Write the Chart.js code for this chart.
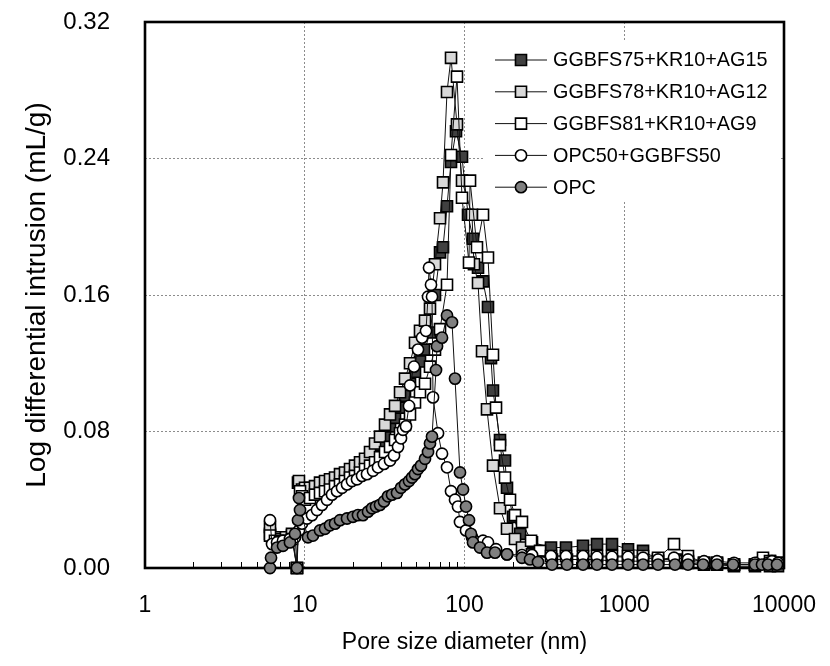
<!DOCTYPE html>
<html>
<head>
<meta charset="utf-8">
<script src="https://cdn.jsdelivr.net/npm/chart.js@4.4.0/dist/chart.umd.min.js"></script>
<style>
html,body{margin:0;padding:0;background:#fff;}
#wrap{width:830px;height:666px;}
</style>
</head>
<body>
<div id="wrap"><canvas id="c" width="830" height="666"></canvas></div>
<script>
// ---------------- DATA ----------------
const seriesNames = ["GGBFS75+KR10+AG15", "GGBFS78+KR10+AG12", "GGBFS81+KR10+AG9", "OPC50+GGBFS50", "OPC"];
const xTicks = [1, 10, 100, 1000, 10000];
const yTicks = [0, 0.08, 0.16, 0.24, 0.32];
const xTitle = "Pore size diameter (nm)";
const yTitle = "Log differential intrusion (mL/g)";

// GGBFS75+KR10+AG15 (dark squares)
const dia_ggbfs75 = [6.06,6.51,7.0,7.63,8.32,8.94,9.07,9.61,10.04,10.79,11.59,12.46,13.39,14.39,15.47,16.62,17.86,19.2,20.63,22.18,23.84,25.62,27.53,29.58,31.8,34.18,36.73,39.48,42.42,45.59,48.99,52.65,56.59,60.81,65.36,70.27,73.37,77.71,82.33,88.48,96.47,105.2,113.0,121.5,130.6,140.3,146.5,150.8,166.8,179.3,184.5,201.2,223,264.6,347.9,431.9,551.9,675.1,838,1056,1311,1627,2108,2506,3157,3807,4866,6584,8172,9172];
const val_ggbfs75 = [0.020,0.017,0.016,0.017,0.019,0.000,0.050,0.045,0.044,0.044,0.046,0.047,0.048,0.049,0.050,0.052,0.053,0.055,0.057,0.059,0.061,0.064,0.068,0.072,0.077,0.083,0.088,0.094,0.101,0.108,0.115,0.121,0.128,0.138,0.160,0.185,0.188,0.212,0.238,0.256,0.241,0.207,0.193,0.176,0.168,0.153,0.123,0.104,0.075,0.063,0.047,0.030,0.020,0.015,0.012,0.012,0.013,0.014,0.014,0.011,0.010,0.005,0.005,0.003,0.002,0.002,0.001,0.001,0.001,0.001];

// GGBFS78+KR10+AG12 (light grey squares)
const dia_ggbfs78 = [6.06,6.51,7.0,7.63,8.32,8.94,9.2,9.61,10.04,10.79,11.59,12.46,13.39,14.39,15.47,16.62,17.86,19.2,20.63,22.18,23.84,25.62,27.53,29.58,31.8,34.18,36.73,39.48,42.42,45.59,48.99,52.65,56.59,60.81,65.36,70.27,73.37,77.71,82.33,89.74,96.47,111.4,114.6,121.5,128.7,138.3,150.8,166.8,184.5,207.1,229,264.6,353,438.1,551.9,675.1,838,1056,1311,1627,2108,2506,3157,3807,4866,6584,7284,8172,9172];
const val_ggbfs78 = [0.024,0.018,0.017,0.018,0.020,0.000,0.051,0.046,0.047,0.047,0.048,0.050,0.051,0.052,0.053,0.055,0.056,0.058,0.060,0.062,0.064,0.068,0.073,0.077,0.084,0.090,0.095,0.103,0.111,0.120,0.132,0.139,0.145,0.152,0.178,0.205,0.226,0.279,0.299,0.260,0.227,0.207,0.178,0.167,0.127,0.093,0.060,0.035,0.023,0.017,0.012,0.008,0.005,0.005,0.005,0.005,0.004,0.004,0.004,0.004,0.004,0.004,0.003,0.003,0.002,0.002,0.003,0.004,0.003];

// GGBFS81+KR10+AG9 (white squares)
const dia_ggbfs81 = [6.06,6.51,7.0,7.63,8.32,8.94,9.34,9.61,10.04,10.79,11.59,12.46,13.39,14.39,15.47,16.62,17.86,19.2,20.63,22.18,23.84,25.62,27.53,29.58,31.8,34.18,36.73,39.48,42.42,45.59,48.99,52.65,56.59,60.81,65.36,70.27,77.71,82.33,89.74,96.47,106.7,108.3,119.7,130.6,140.3,150.8,157.5,166.8,179.3,192.7,207.1,229,261,297,347.9,431.9,551.9,675.1,838,1056,1311,1627,2048,2506,3157,3807,4866,6584,7388,8172,9172];
const val_ggbfs81 = [0.019,0.016,0.015,0.016,0.017,0.000,0.045,0.042,0.040,0.041,0.043,0.044,0.045,0.046,0.048,0.049,0.051,0.053,0.054,0.056,0.058,0.060,0.062,0.065,0.068,0.071,0.075,0.079,0.084,0.090,0.097,0.103,0.108,0.118,0.128,0.140,0.166,0.242,0.288,0.217,0.179,0.227,0.188,0.207,0.182,0.125,0.094,0.072,0.053,0.040,0.031,0.027,0.016,0.010,0.007,0.007,0.007,0.007,0.007,0.007,0.007,0.006,0.014,0.007,0.003,0.003,0.002,0.002,0.006,0.004,0.003];

// OPC50+GGBFS50 (white circles)
const dia_opc50 = [6.06,6.24,6.71,7.31,8.08,8.69,9.2,9.61,10.33,11.1,11.93,12.82,13.78,14.81,15.92,17.11,18.39,19.76,21.24,22.83,24.53,26.75,28.74,31.34,34.18,36.21,38.36,40.05,41.21,43.04,44.94,45.59,48.3,51.16,54.2,57.41,59.1,59.96,61.7,62.6,63.51,68.27,72.32,77.71,82.33,87.21,91.05,93.71,102.2,111.4,121.5,130.6,140.3,157.5,184.5,229,264.6,347.9,431.9,551.9,675.1,838,1056,1311,1627,2048,2506,3157,3807,4866,6584,7940,8410,9172];
const val_opc50 = [0.028,0.014,0.015,0.016,0.017,0.018,0.022,0.026,0.029,0.031,0.034,0.037,0.040,0.043,0.045,0.047,0.049,0.051,0.052,0.054,0.055,0.057,0.059,0.061,0.063,0.066,0.071,0.076,0.081,0.083,0.095,0.107,0.118,0.128,0.135,0.139,0.159,0.176,0.166,0.159,0.100,0.079,0.067,0.059,0.045,0.040,0.036,0.027,0.022,0.018,0.015,0.016,0.015,0.011,0.008,0.0076,0.0076,0.007,0.007,0.007,0.0065,0.0065,0.0065,0.006,0.005,0.006,0.005,0.004,0.004,0.003,0.003,0.003,0.004,0.003];

// OPC (dark grey circles)
const dia_opc = [6.06,6.15,6.71,7.31,8.08,8.69,8.94,9.07,9.2,9.34,10.48,11.26,12.46,13.39,14.39,15.47,16.62,18.39,20.04,21.54,23.16,24.89,26.37,27.93,29.58,31.34,33.2,35.18,37.81,40.05,42.42,44.94,46.93,48.99,51.16,53.42,56.59,59.1,60.81,62.6,66.32,67.29,72.32,77.71,83.53,87.21,93.71,97.87,102.2,106.7,109.8,113.0,125.0,138.3,155.2,184.5,229,257,288.4,353,438.1,551.9,675.1,838,1056,1311,1627,2078,2506,3112,3807,4796,6584,7284,7940,9043];
const val_opc = [0.000,0.006,0.012,0.013,0.015,0.020,0.000,0.028,0.041,0.034,0.018,0.019,0.022,0.023,0.025,0.026,0.028,0.029,0.030,0.031,0.031,0.033,0.035,0.036,0.037,0.039,0.042,0.043,0.044,0.047,0.049,0.051,0.053,0.055,0.058,0.060,0.064,0.068,0.073,0.077,0.116,0.130,0.135,0.148,0.144,0.111,0.056,0.046,0.036,0.028,0.020,0.015,0.012,0.009,0.009,0.008,0.006,0.005,0.0035,0.002,0.002,0.002,0.002,0.002,0.002,0.002,0.002,0.002,0.002,0.002,0.002,0.002,0.002,0.002,0.002,0.002];

// ---------------- CHART ----------------
const FONT = "'Liberation Sans', Arial, Helvetica, sans-serif";
Chart.defaults.font.family = FONT;
Chart.defaults.color = '#000';

function pts(d, v) { return d.map((x, i) => ({x: x, y: v[i]})); }

const styles = [
  {fill: '#404040', shape: 'rect'},
  {fill: '#d9d9d9', shape: 'rect'},
  {fill: '#ffffff', shape: 'rect'},
  {fill: '#ffffff', shape: 'circle'},
  {fill: '#808080', shape: 'circle'}
];
const SQ_R = 7.8, CI_R = 5.6;
const allData = [
  pts(dia_ggbfs75, val_ggbfs75),
  pts(dia_ggbfs78, val_ggbfs78),
  pts(dia_ggbfs81, val_ggbfs81),
  pts(dia_opc50, val_opc50),
  pts(dia_opc, val_opc)
];

const datasets = allData.map((data, i) => ({
  label: seriesNames[i],
  data: data,
  showLine: true,
  borderColor: '#111',
  borderWidth: 1,
  pointStyle: styles[i].shape,
  pointRadius: styles[i].shape === 'rect' ? SQ_R : CI_R,
  pointHoverRadius: styles[i].shape === 'rect' ? SQ_R : CI_R,
  pointBackgroundColor: styles[i].fill,
  pointBorderColor: '#000',
  pointBorderWidth: 1.6,
  clip: false,
  order: 5 - i
}));

const decor = {
  id: 'decor',
  beforeDatasetsDraw(chart) {
    const ctx = chart.ctx, ca = chart.chartArea, xs = chart.scales.x;
    ctx.save();
    // minor ticks on the x axis (inside)
    ctx.strokeStyle = '#000';
    ctx.lineWidth = 1;
    for (let k = 0; k < xTicks.length - 1; k++) {
      for (let m = 2; m <= 9; m++) {
        const px = Math.round(xs.getPixelForValue(m * xTicks[k])) + 0.5;
        ctx.beginPath();
        ctx.moveTo(px, ca.bottom);
        ctx.lineTo(px, ca.bottom - 6);
        ctx.stroke();
      }
    }
    // frame
    ctx.lineWidth = 2.6;
    ctx.strokeStyle = '#000';
    ctx.strokeRect(ca.left, ca.top, ca.right - ca.left, ca.bottom - ca.top);
    ctx.restore();
  },
  afterDatasetsDraw(chart) {
    const ctx = chart.ctx, ca = chart.chartArea;
    ctx.save();
    const bx = ca.right - 301, by = ca.top + 20;
    ctx.fillStyle = '#fff';
    ctx.fillRect(bx, by, 296, 160);
    const rowH = 31.8;
    for (let i = 0; i < seriesNames.length; i++) {
      const y = by + 18 + i * rowH;
      const x0 = bx + 12, x1 = bx + 64, xm = (x0 + x1) / 2;
      ctx.strokeStyle = '#111';
      ctx.lineWidth = 1;
      ctx.beginPath();
      ctx.moveTo(x0, y); ctx.lineTo(x1, y); ctx.stroke();
      ctx.fillStyle = styles[i].fill;
      ctx.strokeStyle = '#000';
      ctx.lineWidth = 1.6;
      ctx.beginPath();
      if (styles[i].shape === 'rect') {
        const s = SQ_R * Math.SQRT1_2;
        ctx.rect(xm - s, y - s, 2 * s, 2 * s);
      } else {
        ctx.arc(xm, y, CI_R, 0, Math.PI * 2);
      }
      ctx.fill(); ctx.stroke();
      ctx.fillStyle = '#000';
      ctx.font = '19.8px ' + FONT;
      ctx.textAlign = 'left';
      ctx.textBaseline = 'middle';
      ctx.fillText(seriesNames[i], x1 + 6, y + 1);
    }
    ctx.restore();
  }
};

new Chart(document.getElementById('c'), {
  type: 'scatter',
  data: {datasets: datasets},
  options: {
    responsive: false,
    devicePixelRatio: 1,
    animation: false,
    events: [],
    layout: {padding: {top: 22, right: 46, left: 0, bottom: 0}},
    plugins: {legend: {display: false}, tooltip: {enabled: false}},
    scales: {
      x: {
        type: 'logarithmic',
        min: 1, max: 10000,
        afterBuildTicks: s => { s.ticks = xTicks.map(v => ({value: v})); },
        afterFit: s => { s.height = 98; s.paddingLeft = 0; s.paddingRight = 0; },
        ticks: {
          callback: v => String(v),
          font: {size: 23}, color: '#000', padding: 24,
          maxRotation: 0, autoSkip: false
        },
        grid: {color: '#8c8c8c', lineWidth: 1, drawTicks: false},
        border: {display: false, dash: [2, 2]},
        title: {display: true, text: xTitle, font: {size: 23}, color: '#000', padding: {top: 0, bottom: 10}}
      },
      y: {
        type: 'linear',
        min: 0, max: 0.32,
        afterBuildTicks: s => { s.ticks = yTicks.map(v => ({value: v})); },
        afterFit: s => { s.width = 145; s.paddingTop = 0; s.paddingBottom = 0; },
        ticks: {
          callback: v => Number(v).toFixed(2),
          font: {size: 24}, color: '#000', padding: 35, autoSkip: false
        },
        grid: {color: '#8c8c8c', lineWidth: 1, drawTicks: false},
        border: {display: false, dash: [2, 2]},
        title: {display: true, text: yTitle, font: {size: 28}, color: '#000', padding: {top: 20, bottom: 0}}
      }
    }
  },
  plugins: [decor]
});
</script>
</body>
</html>
